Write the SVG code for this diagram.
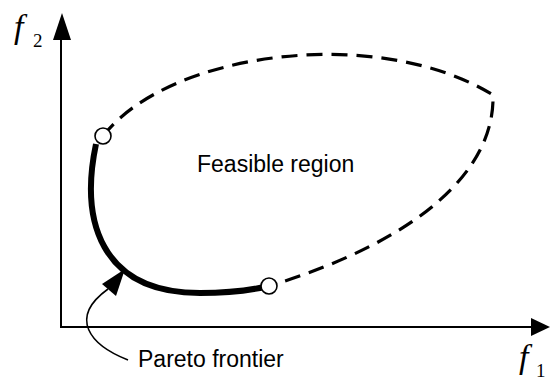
<svg xmlns="http://www.w3.org/2000/svg" width="551" height="381" viewBox="0 0 551 381">
<style>
.axis{stroke:#000;stroke-width:2;fill:none}
.head{fill:#000;stroke:none}
.dash{stroke:#000;stroke-width:3.2;fill:none;stroke-dasharray:16 9}
.front{stroke:#000;stroke-width:6;fill:none;stroke-linecap:butt}
.pt{fill:#fff;stroke:#000;stroke-width:1.6}
.lbl{font-family:"Liberation Sans",Arial,sans-serif;font-size:23px;fill:#000}
.var{font-family:"Liberation Serif","Times New Roman",serif;font-style:italic;font-size:34px;fill:#000}
.sub{font-family:"Liberation Serif","Times New Roman",serif;font-size:19px;fill:#000}
</style>
<g id="axes">
<path class="axis" d="M61,328 V36 M60,327 H533"/>
<polygon class="head" points="62,13 53,40 71,40"/>
<polygon class="head" points="550,327 531,318 531,336"/>
<text class="var" x="14" y="38">f</text><text class="sub" x="33" y="47">2</text>
<text class="var" x="519" y="368">f</text><text class="sub" x="536" y="377">1</text>
</g>
<g id="connectors">
<path class="dash" d="M103,136 C170,50 380,25 493,95 C495,170 420,240 269,286"/>
<path class="front" d="M96,144 C80,220 100,293 200,293 C232,293 252,290 269,286"/>
<path d="M128,360 C90,345 68,318 108,289" stroke="#000" stroke-width="1.6" fill="none"/>
<polygon class="head" points="125,269 102,284 116,296"/>
</g>
<g id="pareto-start"><circle class="pt" cx="103" cy="136" r="8"/></g>
<g id="pareto-end"><circle class="pt" cx="269" cy="286" r="8"/></g>
<g id="feasible-region"><text class="lbl" x="197" y="172">Feasible region</text></g>
<g id="pareto-label"><text class="lbl" x="138" y="367">Pareto frontier</text></g>
</svg>
